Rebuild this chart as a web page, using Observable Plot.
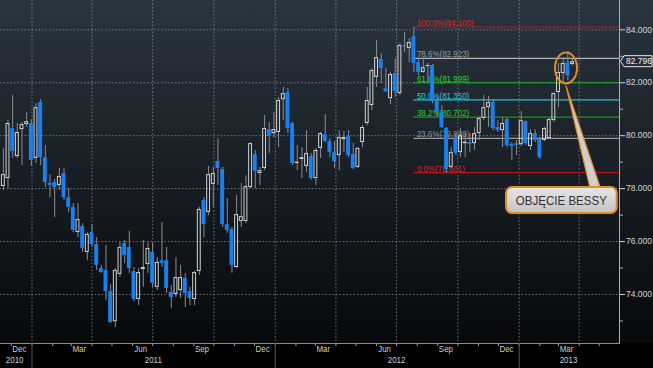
<!DOCTYPE html>
<html>
<head>
<meta charset="utf-8">
<script src="https://cdn.jsdelivr.net/npm/d3@7"></script>
<script src="https://cdn.jsdelivr.net/npm/@observablehq/plot@0.6"></script>
<style>
html, body { margin: 0; padding: 0; background: #000; }
#chart { width: 653px; height: 368px; overflow: hidden; }
</style>
</head>
<body>
<div id="chart"></div>
<script>
// ---- data (weekly candles, first week ending 2010-11-19) ----
const firstWeek = "2010-11-19";
const open = [
78.08, 78.38, 80.27, 79.21, 80.23, 80.42, 80.46, 79.14, 81.25, 79.17,
78.20, 78.23, 78.12, 78.57, 77.66, 77.29, 76.34, 76.57, 75.59, 76.34,
75.89, 74.98, 74.91, 74.11, 72.97, 74.76, 75.93, 75.78, 74.87, 73.81,
74.94, 75.13, 75.59, 74.27, 75.28, 75.28, 74.08, 74.00, 74.15, 74.61,
74.11, 73.81, 74.87, 77.55, 77.10, 78.16, 79.03, 78.72, 76.64, 76.46,
75.02, 76.76, 76.76, 78.04, 79.29, 78.57, 78.76, 80.23, 80.08, 80.12,
81.36, 81.63, 80.46, 78.95, 79.10, 78.84, 79.21, 78.38, 79.52, 80.04,
79.78, 79.36, 79.25, 79.85, 79.97, 79.29, 78.80, 79.74, 80.46, 81.14,
82.20, 82.88, 81.78, 81.40, 82.35, 81.59, 83.41, 83.29, 83.75, 82.76,
82.39, 82.61, 82.65, 81.29, 80.88, 80.27, 78.80, 79.93, 79.36, 79.70,
79.74, 79.70, 80.08, 80.65, 81.06, 81.25, 80.31, 80.19, 80.61, 79.67,
79.70, 79.66, 80.53, 79.59, 80.08, 79.85, 79.82, 79.89, 80.57, 81.63,
82.35, 82.76, 82.69
];
const high = [
79.52, 80.57, 81.52, 80.46, 80.50, 80.88, 80.61, 81.21, 81.36, 79.63,
78.53, 78.34, 78.76, 78.76, 78.00, 77.44, 77.44, 76.68, 76.34, 76.64,
76.15, 75.10, 75.85, 74.38, 74.98, 75.96, 76.04, 76.38, 75.02, 74.98,
76.04, 75.96, 75.96, 75.39, 76.72, 75.78, 74.34, 75.39, 75.10, 74.80,
74.27, 74.87, 77.29, 77.66, 78.84, 78.80, 79.89, 78.80, 77.62, 76.53,
77.74, 78.19, 78.49, 79.74, 79.44, 78.80, 80.76, 80.50, 80.88, 81.44,
81.82, 81.78, 80.50, 79.63, 79.55, 80.19, 79.33, 79.52, 80.12, 80.80,
79.89, 79.78, 80.19, 80.15, 80.19, 79.70, 79.55, 80.38, 81.82, 82.54,
83.60, 83.10, 82.54, 82.39, 82.92, 83.48, 83.90, 83.67, 84.10, 82.92,
82.92, 82.73, 82.69, 81.44, 81.14, 80.31, 79.55, 80.08, 80.27, 80.12,
80.08, 80.31, 80.69, 81.52, 81.48, 81.33, 80.57, 80.69, 80.65, 79.74,
79.82, 80.91, 80.57, 80.23, 80.23, 79.93, 80.31, 80.65, 81.63, 82.73,
82.95, 83.18, 82.88
];
const low = [
77.93, 78.00, 79.14, 79.14, 78.87, 80.31, 78.84, 78.95, 78.87, 78.04,
77.66, 76.91, 77.93, 77.55, 77.10, 76.34, 76.15, 75.59, 75.28, 75.78,
74.91, 74.80, 73.77, 72.91, 72.75, 74.65, 75.17, 74.80, 73.73, 73.58,
74.27, 74.80, 74.27, 74.15, 75.02, 74.04, 73.47, 73.89, 73.85, 73.51,
73.58, 73.58, 74.72, 76.15, 76.98, 77.29, 78.12, 76.53, 76.31, 74.80,
74.98, 76.53, 76.68, 78.00, 78.00, 78.12, 78.68, 79.33, 79.93, 79.55,
80.57, 80.08, 78.87, 78.68, 78.38, 78.61, 78.31, 78.12, 79.14, 79.74,
79.17, 78.76, 78.68, 79.36, 79.17, 78.72, 78.76, 79.55, 80.38, 80.95,
81.82, 81.97, 81.63, 81.17, 81.44, 81.52, 83.14, 82.76, 82.39, 82.27,
82.35, 82.00, 81.21, 80.69, 80.27, 78.60, 78.76, 79.25, 79.17, 79.17,
79.36, 79.44, 79.82, 80.57, 80.31, 80.19, 80.12, 79.55, 79.55, 79.06,
79.25, 79.59, 79.63, 79.44, 79.74, 79.10, 79.78, 79.85, 80.50, 81.06,
81.97, 82.08, 82.65
];
const close = [
78.53, 80.46, 79.40, 80.12, 80.42, 80.53, 79.06, 81.06, 79.17, 78.23,
78.12, 78.04, 78.46, 77.66, 77.29, 76.42, 76.83, 75.74, 76.27, 75.89,
75.10, 74.83, 74.11, 72.94, 74.91, 75.78, 75.47, 74.98, 73.81, 74.83,
75.02, 75.74, 74.42, 75.21, 75.17, 74.23, 73.89, 74.64, 74.64, 74.04,
73.85, 74.83, 77.21, 76.64, 78.53, 78.57, 78.76, 76.64, 76.42, 75.10,
77.02, 76.94, 78.08, 79.70, 78.65, 78.68, 80.27, 79.97, 80.23, 81.33,
81.59, 80.27, 78.95, 79.00, 79.17, 79.33, 78.38, 79.44, 80.08, 79.78,
79.36, 79.02, 79.93, 79.93, 79.25, 78.76, 79.52, 80.31, 81.33, 82.46,
82.95, 82.54, 81.67, 82.31, 81.67, 83.41, 83.35, 83.52, 82.73, 82.39,
82.57, 82.65, 81.29, 80.88, 80.31, 78.72, 79.36, 79.33, 80.00, 79.76,
79.66, 80.08, 80.65, 81.06, 81.25, 80.27, 80.19, 80.46, 79.63, 79.60,
79.63, 80.57, 79.70, 80.08, 79.82, 79.17, 80.27, 80.61, 81.59, 82.39,
82.73, 82.27, 82.796
];

// Fibonacci retracement (high 84.100 on week of 2012-07-27, low 78.601)
const fibStart = "2012-07-27";
const fibLevels = ["100.0%", "78.6%", "61.8%", "50.0%", "38.2%", "23.6%", "0.0%"];
const fibValues = [84.100, 82.923, 81.999, 81.350, 80.702, 79.899, 78.601];

// axis text
const yTicks = [74, 76, 78, 80, 82, 84];
const yMinorTicks = [73, 75, 77, 79, 81, 83];
const monthLabels = ["Dec", "Mar", "Jun", "Sep", "Dec", "Mar", "Jun", "Sep", "Dec", "Mar"];
const monthLabelDates = ["2010-12-13", "2011-03-13", "2011-06-13", "2011-09-13", "2011-12-13",
                         "2012-03-13", "2012-06-13", "2012-09-13", "2012-12-13", "2013-03-13"];
const yearLabels = ["2010", "2011", "2012", "2013"];
const yearLabelDates = ["2010-12-06", "2011-07-02", "2012-07-01", "2013-03-16"];
const yearStarts = ["2011-01-01", "2012-01-01", "2013-01-01"];
const lastPrice = 82.796;
const calloutText = "OBJĘCIE BESSY";

// ---- styles ----
const fibLine = ["#a81a1a", "#b4b4b4", "#1fb21f", "#1fc3d3", "#179a17", "#9a9a9a", "#b01616"];
const fibText = ["#d42a2a", "#9c9c9c", "#33d033", "#2fc9d9", "#33c833", "#8e8e8e", "#d42a2a"];
const UP = "#d2d2d2", DOWN = "#1681f4", WICK = "#8c8c8c", ORANGE = "#e38c24";
const FONT = "'Liberation Sans', Arial, sans-serif";

// ---- build ----
const start = new Date(firstWeek);
const candles = open.map((o, i) => ({
  date: d3.utcDay.offset(start, 7 * i),
  open: o, high: high[i], low: low[i], close: close[i],
  up: close[i] >= o
}));
const fib = fibLevels.map((l, i) => ({level: l, value: fibValues[i], i}));

const xDomain = [new Date("2010-11-14T17:30Z"), new Date("2013-05-31T12:00Z")];
const yDomain = [72.149, 85.107];
const half = d => d3.utcHour.offset(d, -70);
const halfR = d => d3.utcHour.offset(d, 70);
const monthStarts = d3.utcMonth.range(d3.utcMonth.ceil(xDomain[0]), xDomain[1]);
const quarterStarts = d3.utcMonth.every(3).range(d3.utcMonth.ceil(xDomain[0]), xDomain[1]);

const chart = Plot.plot({
  width: 653, height: 368,
  marginTop: 0, marginRight: 34, marginBottom: 25, marginLeft: 0,
  x: {type: "utc", domain: xDomain},
  y: {domain: yDomain},
  style: {
    background: "linear-gradient(to bottom, #2a3540 0px, #1a2128 150px, #07090b 343px, #000 343px, #000 368px)",
    fontFamily: FONT, fontSize: "9px", color: "#d0d0d0"
  },
  marks: [
    Plot.gridY(yTicks, {stroke: "#8a9098", strokeOpacity: 0.75, strokeDasharray: "1.5,2"}),
    Plot.gridX(quarterStarts, {stroke: "#8a9098", strokeOpacity: 0.75, strokeDasharray: "1.5,2"}),
    // fibonacci
    Plot.ruleY(fib, {y: "value", x1: new Date(fibStart), x2: xDomain[1],
      stroke: d => fibLine[d.i], strokeWidth: 1.2}),
    Plot.text(fib, {x: new Date(fibStart), y: "value", text: d => `${d.level}(${d.value.toFixed(3)})`,
      textAnchor: "start", lineAnchor: "bottom", dx: 3, dy: -1, fontSize: 9.5,
      fill: d => fibText[d.i], className: "fiblbl"}),
    // wicks
    Plot.ruleX(candles, {x: "date", y1: "high", y2: d => Math.max(d.open, d.close), stroke: WICK}),
    Plot.ruleX(candles, {x: "date", y1: "low", y2: d => Math.min(d.open, d.close), stroke: WICK}),
    // bodies
    Plot.rect(candles.filter(d => !d.up), {x1: d => half(d.date), x2: d => halfR(d.date),
      y1: "open", y2: "close", fill: DOWN}),
    Plot.rect(candles.filter(d => d.up), {x1: d => half(d.date), x2: d => halfR(d.date),
      y1: "open", y2: "close", fill: "none", stroke: UP, strokeWidth: 1, inset: 0.5}),
    // frame / axes
    Plot.frame({anchor: "right", stroke: "#b0b0b0"}),
    Plot.frame({anchor: "bottom", stroke: "#8c8c8c"}),
    Plot.axisY(yTicks, {anchor: "right", tickSize: 5, tickPadding: 1.5, stroke: "#d0d0d0",
      fill: "#d4d4d4", fontSize: 8.5, tickFormat: d => d.toFixed(3)}),
    Plot.axisY(yMinorTicks, {anchor: "right", tickSize: 3, stroke: "#b0b0b0", tickFormat: () => ""}),
    Plot.axisX(monthStarts, {anchor: "bottom", tickSize: 3, stroke: "#9a9a9a", tickFormat: () => ""}),
    Plot.axisX(yearStarts.map(d => new Date(d)), {anchor: "bottom", tickSize: 25, stroke: "#555",
      tickFormat: () => ""}),
    Plot.text(monthLabelDates, {x: d => new Date(d), text: (d, i) => monthLabels[i],
      frameAnchor: "bottom", dy: 8, fill: "#cfcfcf", fontSize: 9, className: "xlbl"}),
    Plot.text(yearLabelDates, {x: d => new Date(d), text: (d, i) => yearLabels[i],
      frameAnchor: "bottom", dy: 19, fill: "#cfcfcf", fontSize: 9, className: "xlbl"}),
    // last price tag text
    Plot.text([lastPrice], {x: xDomain[1], y: d => d, text: d => d.toFixed(3),
      textAnchor: "start", dx: 6.5, fill: "#f2f2f2", fontSize: 8.5})
  ]
});
document.getElementById("chart").appendChild(chart);

// narrow (Bloomberg-like condensed) text: compress glyph advance of real text
function narrow(selector, k) {
  d3.select(chart).selectAll(selector).each(function () {
    const len = this.getComputedTextLength();
    if (len > 0) {
      this.setAttribute("textLength", (len * k).toFixed(2));
      this.setAttribute("lengthAdjust", "spacingAndGlyphs");
    }
  });
}
narrow(".fiblbl text", 0.84);
narrow(".xlbl text", 0.88);

// ---- annotations placed through the plot's scales ----
const sx = chart.scale("x"), sy = chart.scale("y");
const X = d => sx.apply(new Date(d)), Y = v => sy.apply(v);
const svg = d3.select(chart);
const g = svg.append("g");

// last price tag outline
const tagY = Y(lastPrice), tagX = X(xDomain[1]);
g.append("path")
  .attr("d", `M${tagX + 1.5},${tagY} L${tagX + 5},${tagY - 5.5} L${tagX + 33},${tagY - 5.5} L${tagX + 33},${tagY + 5.5} L${tagX + 5},${tagY + 5.5} Z`)
  .attr("fill", "none").attr("stroke", "#e8e8e8").attr("stroke-width", 1);

// ellipse around the last candles
g.append("ellipse")
  .attr("cx", X("2013-03-13")).attr("cy", Y(82.54))
  .attr("rx", 11).attr("ry", 15.5)
  .attr("fill", "none").attr("stroke", ORANGE).attr("stroke-width", 2);

// callout tail
const ax = X("2013-03-13"), ay = Y(81.86);
const b1 = X("2013-04-19"), b2 = X("2013-05-05"), by = Y(77.9);
g.append("path")
  .attr("d", `M${ax},${ay} L${b2},${by} L${b1},${by} Z`)
  .attr("fill", "#cfcfcf").attr("stroke", ORANGE).attr("stroke-width", 1.2)
  .attr("stroke-linejoin", "round");

// callout box
const defs = svg.append("defs");
const grad = defs.append("linearGradient").attr("id", "boxgrad").attr("x1", 0).attr("x2", 0).attr("y1", 0).attr("y2", 1);
grad.append("stop").attr("offset", "0%").attr("stop-color", "#e6e6e6");
grad.append("stop").attr("offset", "100%").attr("stop-color", "#c4c4c4");
const bx1 = X("2012-12-13"), bx2 = X("2013-05-28"), by1 = Y(78.04), by2 = Y(77.06);
g.append("rect")
  .attr("x", bx1).attr("y", by1).attr("width", bx2 - bx1).attr("height", by2 - by1)
  .attr("rx", 6).attr("fill", "url(#boxgrad)").attr("stroke", ORANGE).attr("stroke-width", 2);
g.append("text")
  .attr("x", X("2013-03-06")).attr("y", Y(77.55))
  .attr("text-anchor", "middle").attr("dominant-baseline", "central")
  .attr("font-family", FONT).attr("font-size", 13).attr("fill", "#333")
  .attr("textLength", 91).attr("lengthAdjust", "spacingAndGlyphs")
  .text(calloutText);
</script>
</body>
</html>
